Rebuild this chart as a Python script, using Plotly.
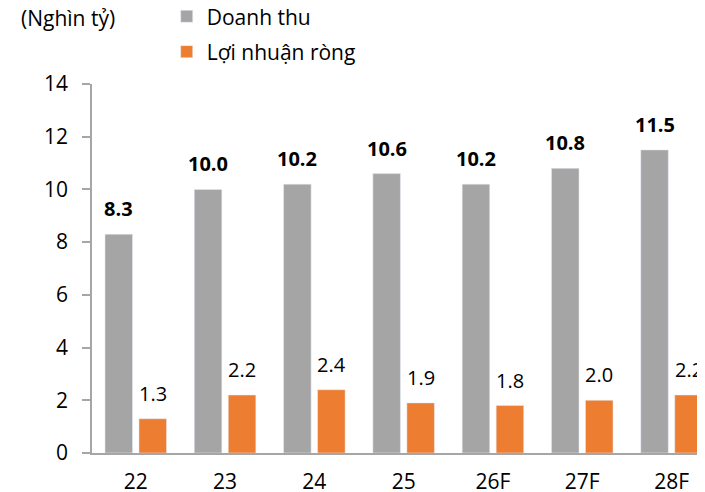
import plotly.graph_objects as go

categories = ["22", "23", "24", "25", "26F", "27F", "28F"]
revenue = [8.3, 10.0, 10.2, 10.6, 10.2, 10.8, 11.5]
net_profit = [1.3, 2.2, 2.4, 1.9, 1.8, 2.0, 2.2]
y_ticks = [0, 2, 4, 6, 8, 10, 12, 14]

FONT = "Open Sans, Noto Sans, sans-serif"
FS = 21
GRAY = "#A5A5A5"
ORANGE = "#ED7D31"

fig = go.Figure()
fig.add_trace(go.Bar(
    x=categories, y=revenue, name="Doanh thu",
    marker=dict(color=GRAY), legendgroup="a",
))
fig.add_trace(go.Bar(
    x=categories, y=net_profit, name="Lợi nhuận ròng",
    marker=dict(color=ORANGE), legendgroup="b",
))

annotations = []
for i, v in enumerate(revenue):
    annotations.append(dict(
        x=i, y=v, xref="x", yref="y", text=f"<b>{v:.1f}</b>",
        showarrow=False, xanchor="center", yanchor="bottom",
        xshift=-17, yshift=10, font=dict(size=20, color="#000000"),
    ))
for i, v in enumerate(net_profit):
    annotations.append(dict(
        x=i, y=v, xref="x", yref="y", text=f"{v:.1f}",
        showarrow=False, xanchor="center", yanchor="bottom",
        xshift=17, yshift=10, font=dict(size=20, color="#000000"),
    ))
annotations.append(dict(
    text="(Nghìn tỷ)", xref="paper", yref="paper",
    x=-0.1174, y=1.178, xanchor="left", yanchor="middle",
    showarrow=False, font=dict(size=FS, color="#000000"),
))

fig.update_layout(
    width=705, height=492,
    margin=dict(l=84, r=1, t=76, b=47, autoexpand=False),
    paper_bgcolor="white", plot_bgcolor="white",
    font=dict(family=FONT, size=FS, color="#000000"),
    barmode="group", bargap=0.2385, bargroupgap=0.19,
    legend=dict(
        x=0.1205, y=1.238, xanchor="left", yanchor="top",
        orientation="v", font=dict(size=FS, color="#000000"),
        bgcolor="rgba(0,0,0,0)", tracegroupgap=5, traceorder="grouped",
        itemwidth=30,
    ),
    annotations=annotations,
)
fig.update_yaxes(
    range=[0, 14], tickvals=y_ticks, ticktext=[str(t) for t in y_ticks],
    showgrid=False, zeroline=False,
    showline=True, linecolor="#A6A6A6", linewidth=1.5,
    ticks="outside", ticklen=8, tickcolor="#A6A6A6", tickwidth=1.5,
    ticklabelstandoff=10,
)
fig.update_xaxes(
    type="category", range=[-0.49, 6.453],
    showgrid=False, showline=True, linecolor="#A6A6A6", linewidth=1.5,
    ticks="", ticklabelstandoff=9,
)

fig.write_html("out.html")
